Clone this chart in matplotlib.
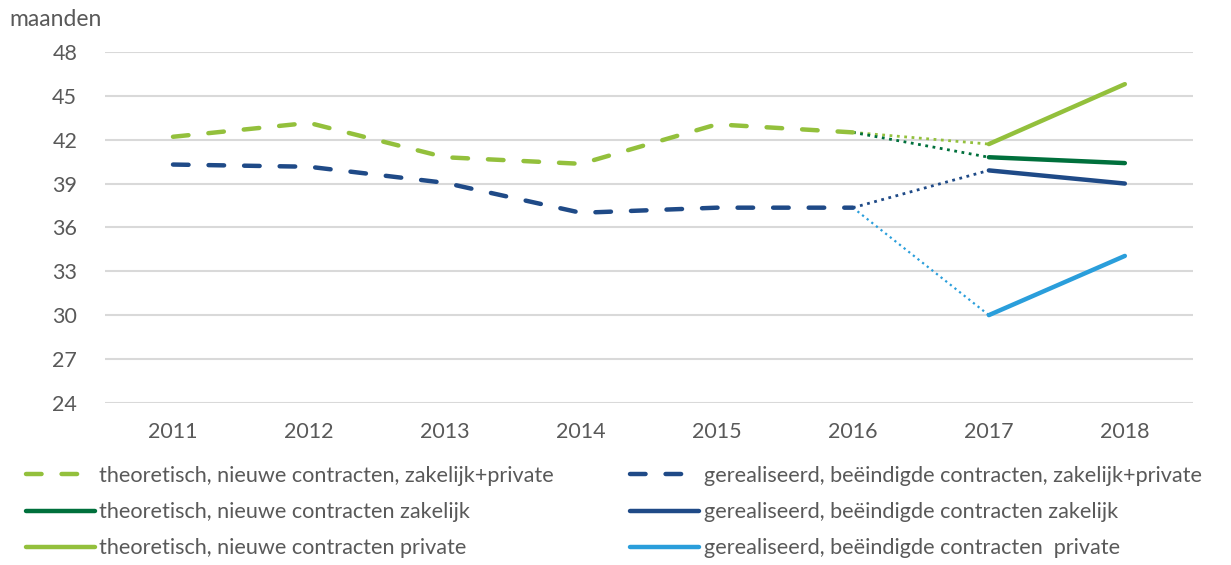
import matplotlib.pyplot as plt
import numpy as np

plt.rcParams['font.family'] = ['Lato', 'DejaVu Sans']

# data
years = ['2011', '2012', '2013', '2014', '2015', '2016', '2017', '2018']
theor_total = [42.2, 43.15, 40.8, 40.35, 43.05, 42.5]       # 2011-2016
real_total = [40.3, 40.15, 39.05, 37.0, 37.35, 37.35]       # 2011-2016
theor_zakelijk = [40.8, 40.4]                                # 2017-2018
theor_private = [41.7, 45.8]
real_zakelijk = [39.9, 39.0]
real_private = [30.0, 34.05]

labels = [
    'theoretisch, nieuwe contracten, zakelijk+private',
    'theoretisch, nieuwe contracten zakelijk',
    'theoretisch, nieuwe contracten private',
    'gerealiseerd, beëindigde contracten, zakelijk+private',
    'gerealiseerd, beëindigde contracten zakelijk',
    'gerealiseerd, beëindigde contracten  private',
]

c_lgreen = '#93C03C'
c_dgreen = '#00703C'
c_navy = '#1F4A87'
c_lblue = '#2A9EDB'
txt = '#595959'

fig = plt.figure(figsize=(12.31, 5.65), dpi=100)
ax = fig.add_axes([0.0853, 0.287, 0.8837, 0.621])

x = np.arange(len(years))
x_hist = x[:6]
x_new = x[6:]

# dotted connectors from 2016 to 2017
ax.plot([x[5], x[6]], [theor_total[-1], theor_private[0]], ':', color=c_lgreen, lw=2)
ax.plot([x[5], x[6]], [theor_total[-1], theor_zakelijk[0]], ':', color=c_dgreen, lw=2)
ax.plot([x[5], x[6]], [real_total[-1], real_zakelijk[0]], ':', color=c_navy, lw=2)
ax.plot([x[5], x[6]], [real_total[-1], real_private[0]], ':', color=c_lblue, lw=1.6)

h1, = ax.plot(x_hist, theor_total, color=c_lgreen, lw=3.2, dashes=(3.5, 4.5),
              dash_capstyle='round')
h4, = ax.plot(x_hist, real_total, color=c_navy, lw=3.2, dashes=(3.5, 4.5),
              dash_capstyle='round')
h2, = ax.plot(x_new, theor_zakelijk, color=c_dgreen, lw=3.2, solid_capstyle='round')
h3, = ax.plot(x_new, theor_private, color=c_lgreen, lw=3.2, solid_capstyle='round')
h5, = ax.plot(x_new, real_zakelijk, color=c_navy, lw=3.2, solid_capstyle='round')
h6, = ax.plot(x_new, real_private, color=c_lblue, lw=3.2, solid_capstyle='round')

ax.set_xlim(-0.5, len(years) - 0.5)
ax.set_ylim(24, 48)
ax.set_yticks(np.arange(24, 49, 3))
ax.set_xticks(x)
ax.set_xticklabels(years)
ax.grid(axis='y', color='#D9D9D9', lw=1.5)
ax.set_axisbelow(True)
for s in ax.spines.values():
    s.set_visible(False)
ax.tick_params(length=0, labelsize=15.5, colors=txt, pad=14)
ax.tick_params(axis='y', pad=20)

fig.text(0.008, 0.965, 'maanden', fontsize=16.5, color=txt, va='center')

leg = fig.legend([h1, h2, h3, h4, h5, h6], labels, ncol=2, loc='upper left',
                 bbox_to_anchor=(0.005, 0.21), frameon=False, fontsize=15.6,
                 handlelength=3.2, handletextpad=0.2, columnspacing=3.5,
                 labelspacing=0.75, labelcolor=txt)

fig.savefig('out.png', dpi=100)
